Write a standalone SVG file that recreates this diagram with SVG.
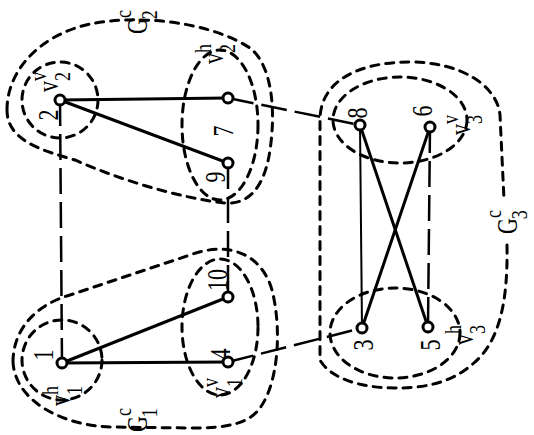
<svg xmlns="http://www.w3.org/2000/svg" width="534" height="435" viewBox="0 0 534 435">
<style>
.cl{fill:none;stroke:#000;stroke-width:3;stroke-dasharray:8 7;stroke-linecap:round}
.e{stroke:#000;stroke-width:3;fill:none}
.et{stroke:#000;stroke-width:2;fill:none}
.ed{stroke:#000;stroke-width:2.5;fill:none;stroke-dasharray:26 8}
.n{fill:#fff;stroke:#000;stroke-width:3}
.t{font-family:"Liberation Serif","DejaVu Serif",serif;font-size:22px;fill:#000}
.c{text-anchor:middle}
.s{font-size:18px}
</style>
<g id="clusters">
<path id="G2c" class="cl" d="M7,110 C7,70 40,35 90,24 C140,14 210,22 250,48 C272,65 276,110 270,150 C265,185 250,205 225,203 C180,198 120,180 75,160 C40,150 7,140 7,110 Z"/>
<circle id="v2v" class="cl" cx="60" cy="100" r="38"/>
<ellipse id="v2h" class="cl" cx="220" cy="125" rx="38" ry="75"/>
<path id="G1c" class="cl" d="M13,362 C13,330 35,305 70,295 L190,255 C230,240 262,255 272,290 C282,330 278,380 262,405 C250,425 225,428 190,428 L110,427 C60,425 15,400 13,362 Z"/>
<circle id="v1h" class="cl" cx="62" cy="360" r="40"/>
<ellipse id="v1v" class="cl" cx="220" cy="327" rx="38" ry="68"/>
<path id="G3c" class="cl" d="M507,245 C508,300 500,340 475,362 C450,385 420,388 395,388 C360,388 330,378 320,360 L320,120 C320,80 360,62 410,62 C460,62 497,85 500,115 L504,200"/>
<ellipse id="v3v" class="cl" cx="400" cy="120" rx="67" ry="43"/>
<ellipse id="v3h" class="cl" cx="395" cy="333" rx="65" ry="45"/>
</g>
<g id="connectors">
<line class="e" x1="60" y1="100" x2="228" y2="98"/>
<line class="e" x1="60" y1="100" x2="228" y2="163"/>
<line class="e" x1="62" y1="363" x2="228" y2="297"/>
<line class="e" x1="62" y1="363" x2="228" y2="362"/>
<line class="e" x1="360" y1="125" x2="428" y2="327"/>
<line class="e" x1="430" y1="127" x2="362" y2="328"/>
<line class="et" x1="360" y1="125" x2="362" y2="328"/>
<line class="ed" x1="430" y1="127" x2="428" y2="327"/>
<line class="ed" x1="60" y1="100" x2="62" y2="363"/>
<line class="ed" x1="228" y1="163" x2="228" y2="297"/>
<line class="ed" x1="228" y1="98" x2="360" y2="125"/>
<line class="ed" x1="228" y1="362" x2="362" y2="328"/>
</g>
<g id="n1"><circle class="n" cx="62" cy="363" r="5"/><text class="t c" transform="translate(53,355) rotate(-90) scale(1,1.3)">1</text></g>
<g id="n2"><circle class="n" cx="60" cy="100" r="5"/><text class="t c" transform="translate(58,115) rotate(-90) scale(1,1.3)">2</text></g>
<g id="n3"><circle class="n" cx="362" cy="328" r="5"/><text class="t c" transform="translate(373,345) rotate(-90) scale(1,1.3)">3</text></g>
<g id="n4"><circle class="n" cx="228" cy="362" r="5"/><text class="t c" transform="translate(230,354) rotate(-90) scale(1,1.3)">4</text></g>
<g id="n5"><circle class="n" cx="428" cy="327" r="5"/><text class="t c" transform="translate(440,345) rotate(-90) scale(1,1.3)">5</text></g>
<g id="n6"><circle class="n" cx="430" cy="127" r="5"/><text class="t c" transform="translate(432,111) rotate(-90) scale(1,1.3)">6</text></g>
<g id="n7"><circle class="n" cx="228" cy="98" r="5"/><text class="t c" transform="translate(233,131) rotate(-90) scale(1,1.3)">7</text></g>
<g id="n8"><circle class="n" cx="360" cy="125" r="5"/><text class="t c" transform="translate(367,113) rotate(-90) scale(1,1.3)">8</text></g>
<g id="n9"><circle class="n" cx="228" cy="163" r="5"/><text class="t c" transform="translate(225,177) rotate(-90) scale(1,1.3)">9</text></g>
<g id="n10"><circle class="n" cx="228" cy="297" r="5"/><text class="t c" transform="translate(227,280) rotate(-90) scale(1,1.3)">10</text></g>
<g id="labels">
<text class="t" transform="translate(58,92) rotate(-90) scale(1,1.3)">v<tspan class="s" dy="-9">v</tspan><tspan class="s" dx="-9" dy="18">2</tspan></text>
<text class="t" transform="translate(223,64) rotate(-90) scale(1,1.3)">v<tspan class="s" dy="-9">h</tspan><tspan class="s" dx="-9" dy="18">2</tspan></text>
<text class="t" transform="translate(70,406) rotate(-90) scale(1,1.3)">v<tspan class="s" dy="-9">h</tspan><tspan class="s" dx="-9" dy="18">1</tspan></text>
<text class="t" transform="translate(230,398) rotate(-90) scale(1,1.3)">v<tspan class="s" dy="-9">v</tspan><tspan class="s" dx="-9" dy="18">1</tspan></text>
<text class="t" transform="translate(470,135) rotate(-90) scale(1,1.3)">v<tspan class="s" dy="-9">v</tspan><tspan class="s" dx="-9" dy="18">3</tspan></text>
<text class="t" transform="translate(473,345) rotate(-90) scale(1,1.3)">v<tspan class="s" dy="-9">h</tspan><tspan class="s" dx="-9" dy="18">3</tspan></text>
<text class="t" transform="translate(147,432) rotate(-90) scale(1,1.3)">G<tspan class="s" dy="-12">c</tspan><tspan class="s" dx="-9" dy="20">1</tspan></text>
<text class="t" transform="translate(147,34) rotate(-90) scale(1,1.3)">G<tspan class="s" dy="-12">c</tspan><tspan class="s" dx="-9" dy="20">2</tspan></text>
<text class="t" transform="translate(517,234) rotate(-90) scale(1,1.3)">G<tspan class="s" dy="-12">c</tspan><tspan class="s" dx="-9" dy="20">3</tspan></text>
</g>
</svg>
